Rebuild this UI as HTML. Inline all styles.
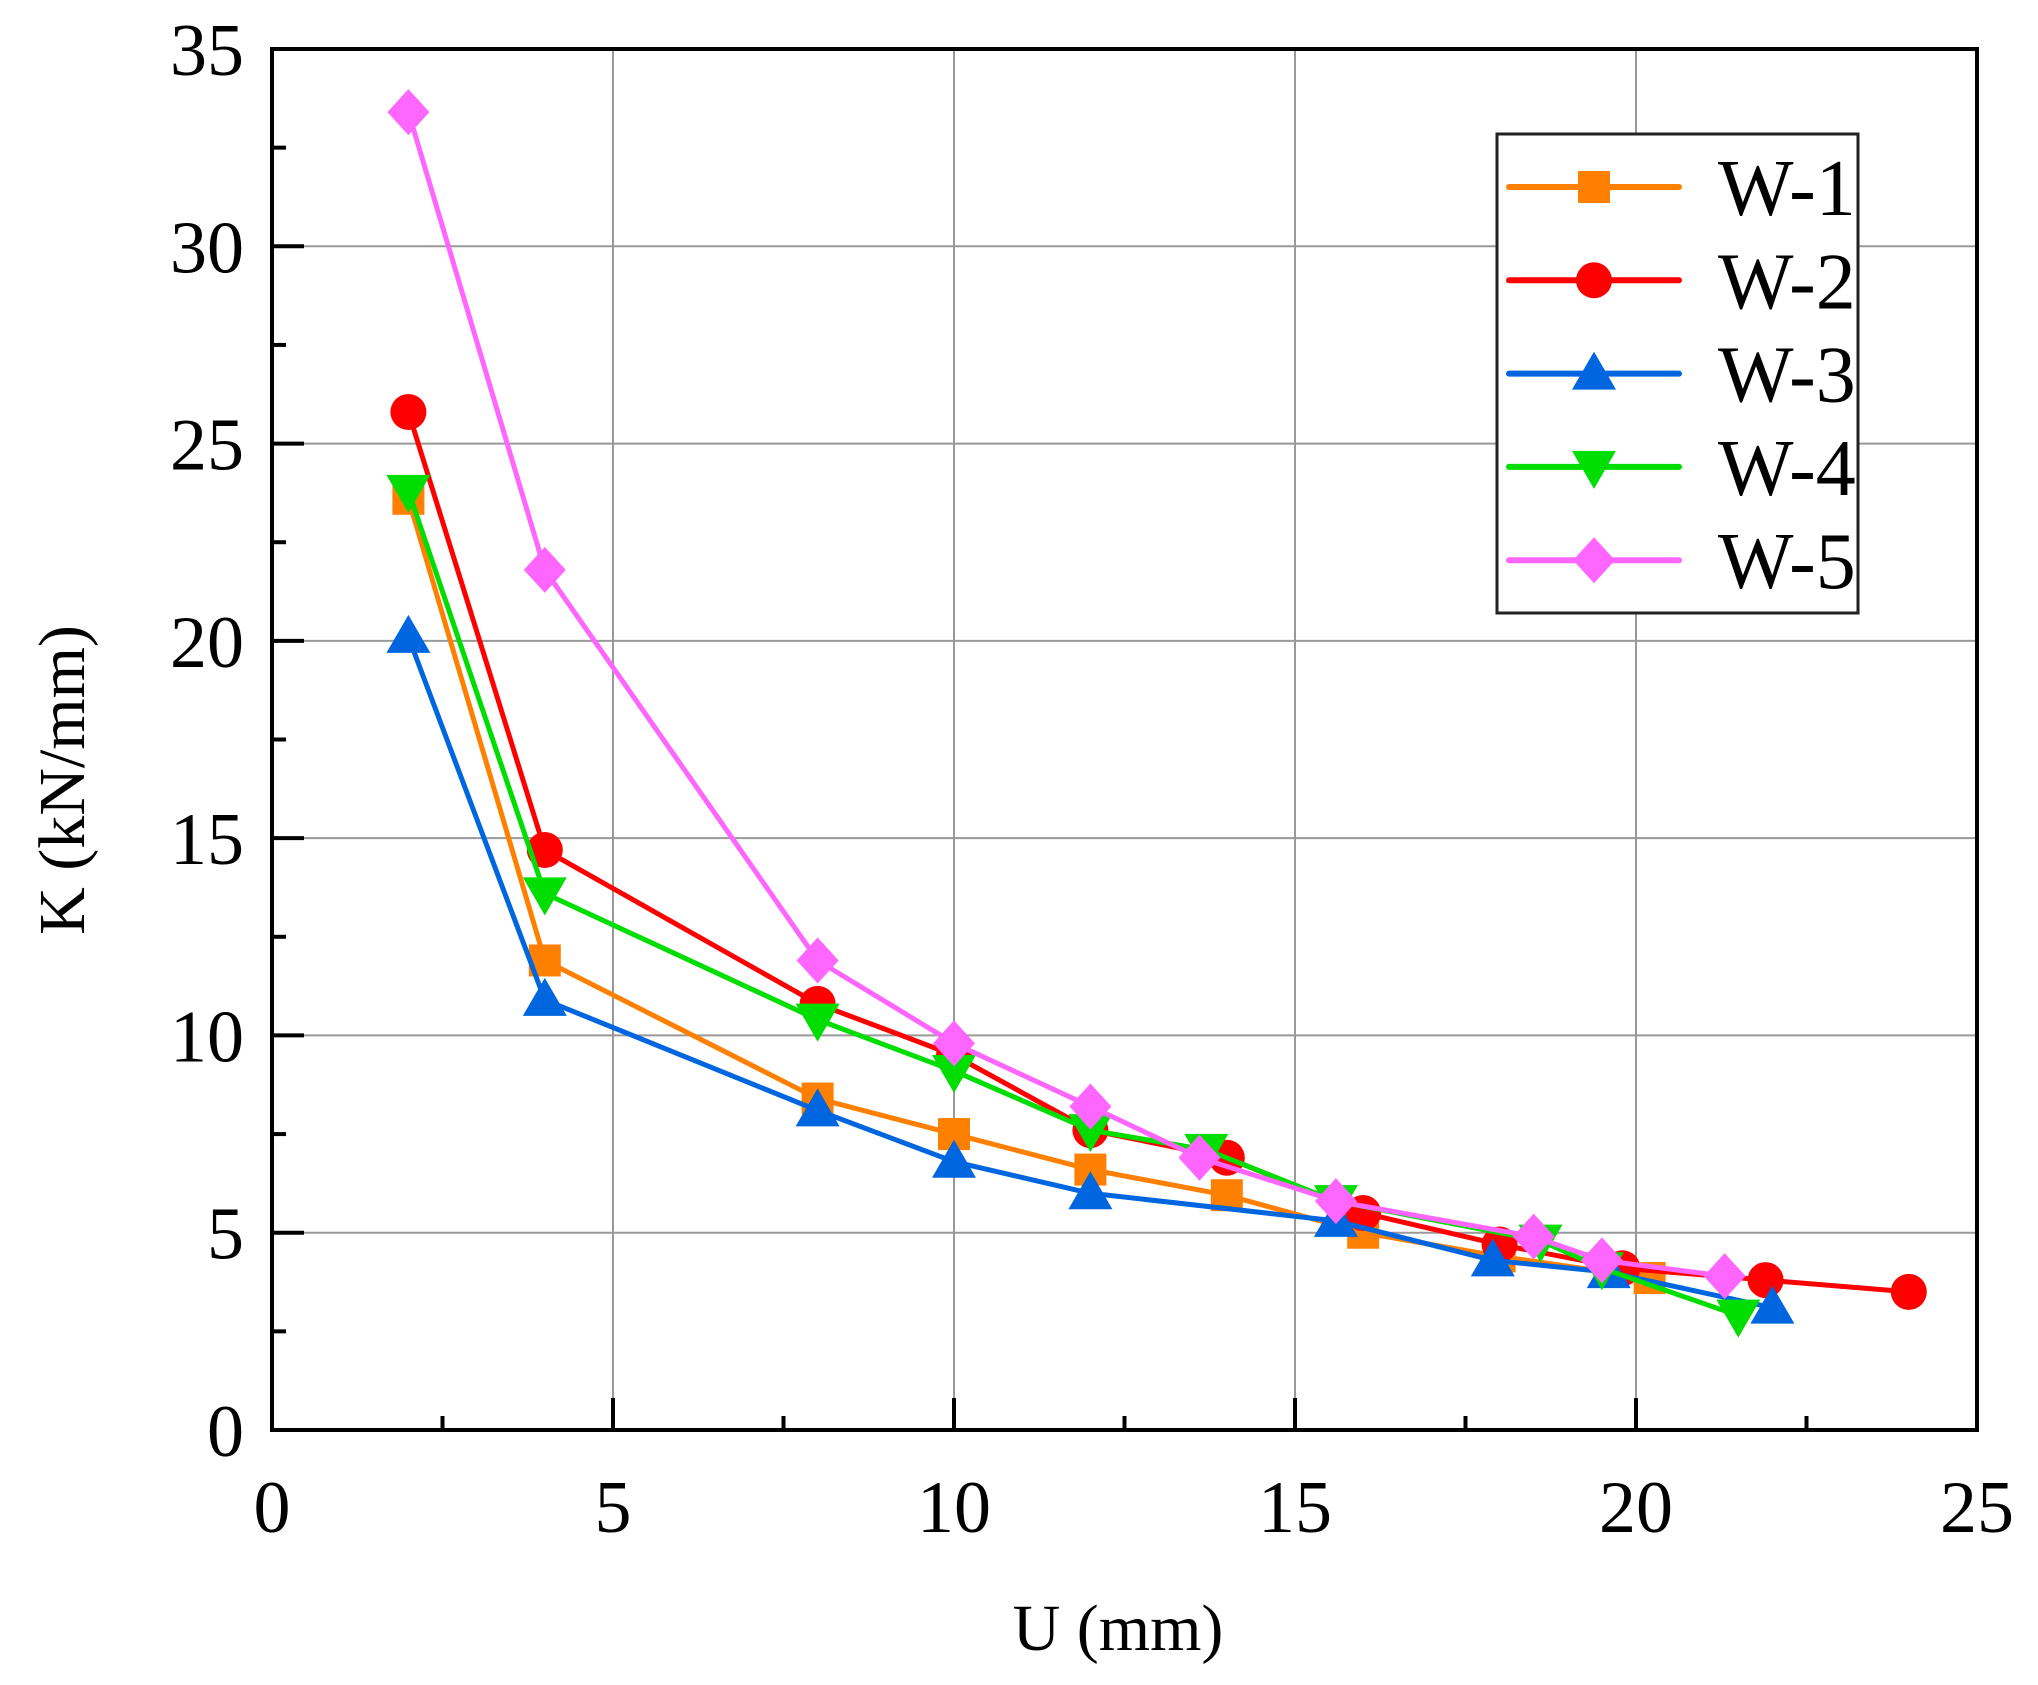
<!DOCTYPE html>
<html><head><meta charset="utf-8"><style>
body{margin:0;background:#fff}
svg text{font-family:"Liberation Serif","Noto Serif CJK SC",serif;fill:#000}
</style></head><body>
<svg id="chart" width="2038" height="1680" viewBox="0 0 2038 1680" xmlns="http://www.w3.org/2000/svg">
<g id="grid"></g>
<g id="series"></g>
<g id="axes"></g>
<g id="legend"></g>
</svg>
<script>
const xTicks=[0,5,10,15,20,25];
const yTicks=[0,5,10,15,20,25,30,35];
const seriesNames=["W-1","W-2","W-3","W-4","W-5"];
const w1x=[2,4,8,10,12,14,16,18,20.2];
const w1y=[23.6,11.9,8.4,7.5,6.6,5.95,5.0,4.4,3.85];
const w2x=[2,4,8,10,12,14,16,18,19.8,21.9,24];
const w2y=[25.8,14.7,10.8,9.5,7.6,6.9,5.5,4.7,4.1,3.8,3.5];
const w3x=[2,4,8,10,12,15.6,17.9,19.6,22];
const w3y=[20.1,10.9,8.1,6.8,6.0,5.3,4.3,4.0,3.1];
const w4x=[2,4,8,10,12,13.7,15.6,18.6,19.5,21.5];
const w4y=[23.8,13.6,10.4,9.1,7.6,7.1,5.8,4.8,4.1,2.9];
const w5x=[2,4,8,10,12,13.6,15.6,18.5,19.5,21.3];
const w5y=[33.4,21.8,11.9,9.8,8.2,6.9,5.8,4.9,4.3,3.9];

const L=272,R=1977,T=49,B=1430;
const xs=v=>L+(v-0)/25*(R-L);
const ys=v=>B-(v-0)/35*(B-T);
const NS="http://www.w3.org/2000/svg";
function mk(tag,attrs,parent){const e=document.createElementNS(NS,tag);for(const k in attrs)e.setAttribute(k,attrs[k]);parent.appendChild(e);return e;}
const grid=document.getElementById('grid'),axes=document.getElementById('axes'),ser=document.getElementById('series'),leg=document.getElementById('legend');

xTicks.forEach(t=>{if(t>0&&t<25){const l=mk('line',{x1:xs(t),x2:xs(t),y1:T,y2:B,stroke:'#999','stroke-width':2},grid);

}});
yTicks.forEach(t=>{if(t>0&&t<35){const l=mk('line',{x1:L,x2:R,y1:ys(t),y2:ys(t),stroke:'#999','stroke-width':2},grid);

}});

const colors=["#ff8000","#ff0000","#0066e0","#00dd00","#ff66ff"];
const xsArr=[w1x,w2x,w3x,w4x,w5x],ysArr=[w1y,w2y,w3y,w4y,w5y];
function marker(i,cx,cy,g){
  const c=colors[i];let m;
  if(i==0)m=mk('rect',{x:cx-16,y:cy-16,width:32,height:32,fill:c},g);
  else if(i==1)m=mk('circle',{cx:cx,cy:cy,r:18,fill:c},g);
  else if(i==2)m=mk('polygon',{points:`${cx},${cy-22} ${cx-22},${cy+16} ${cx+22},${cy+16}`,fill:c},g);
  else if(i==3)m=mk('polygon',{points:`${cx},${cy+22} ${cx-22},${cy-16} ${cx+22},${cy-16}`,fill:c},g);
  else m=mk('polygon',{points:`${cx},${cy-23} ${cx+21},${cy} ${cx},${cy+23} ${cx-21},${cy}`,fill:c},g);
  
  
}
for(let i=0;i<5;i++){
  const g=mk('g',{},ser);
  
  
  const pts=xsArr[i].map((x,j)=>xs(x)+','+ys(ysArr[i][j])).join(' ');
  const pl=mk('polyline',{points:pts,fill:'none',stroke:colors[i],'stroke-width':5,'stroke-linejoin':'round'},g);
  
  
  xsArr[i].forEach((x,j)=>marker(i,xs(x),ys(ysArr[i][j]),g));
}

const fr=mk('rect',{x:L,y:T,width:R-L,height:B-T,fill:'none',stroke:'#000','stroke-width':4},axes);


for(let v=0;v<=25;v+=2.5){const major=v%5==0;const l=mk('line',{x1:xs(v),x2:xs(v),y1:B,y2:B-(major?32:14),stroke:'#000','stroke-width':4},axes);

}
for(let v=0;v<=35;v+=2.5){const major=v%5==0;const l=mk('line',{x1:L,x2:L+(major?32:14),y1:ys(v),y2:ys(v),stroke:'#000','stroke-width':4},axes);

}
xTicks.forEach(t=>{const e=mk('text',{x:xs(t),y:1532,'font-size':74,'text-anchor':'middle'},axes);e.textContent=t;

});
yTicks.forEach(t=>{const e=mk('text',{x:244,y:ys(t)+26,'font-size':74,'text-anchor':'end'},axes);e.textContent=t;

});
const xt=mk('text',{x:1118,y:1650,'font-size':66,'text-anchor':'middle'},axes);xt.textContent='U (mm)';


const yt=mk('text',{x:0,y:0,'font-size':66,'text-anchor':'middle',transform:'translate(84,780) rotate(-90)'},axes);yt.textContent='K (kN/mm)';



const lb=mk('rect',{x:1497,y:134,width:361,height:479,fill:'#fff',stroke:'#222','stroke-width':3},leg);


for(let i=0;i<5;i++){
  const y=187+i*93.3;
  const g=mk('g',{},leg);
  
  
  mk('line',{x1:1509,x2:1679,y1:y,y2:y,stroke:colors[i],'stroke-width':6,'stroke-linecap':'round'},g);
  marker(i,1594,y,g);
  const t=mk('text',{x:1718,y:y+28,'font-size':80},g);t.textContent=seriesNames[i];
  
  
}
</script>
</body></html>
